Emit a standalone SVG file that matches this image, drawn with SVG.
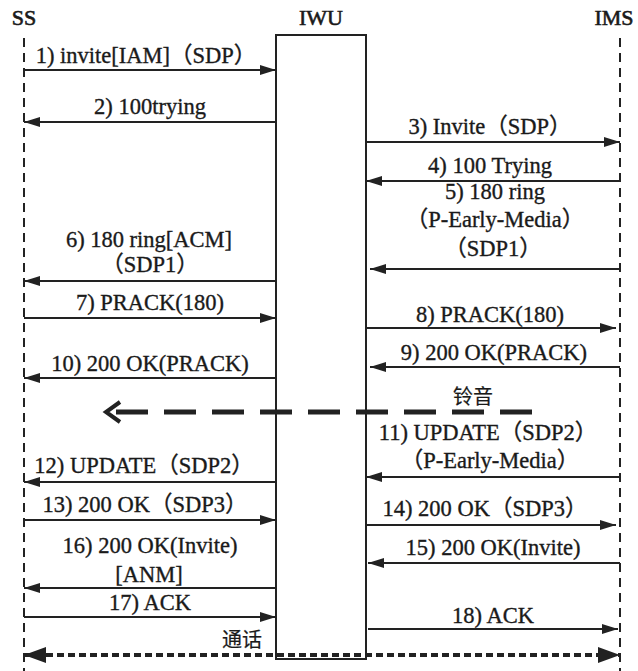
<svg xmlns="http://www.w3.org/2000/svg" width="638" height="671" viewBox="0 0 638 671">
<defs>
<style>
text{font-family:"Liberation Serif","Noto Sans CJK SC",serif;font-size:22.5px;fill:#1a1a1a;stroke:#1a1a1a;stroke-width:0.35}
.c{text-anchor:middle}
.h{font-size:22px;stroke-width:0.6}
.cjk{font-family:"Noto Sans CJK SC",sans-serif;font-size:20px;stroke-width:0.2}
.life{stroke:#222;stroke-width:2;stroke-dasharray:9,6;fill:none}
.msg{stroke:#222;stroke-width:2;fill:none}
</style>
<marker id="ah" viewBox="0 0 16 10" refX="16" refY="5" markerWidth="16" markerHeight="10" markerUnits="userSpaceOnUse" orient="auto">
<path d="M0,0 L16,5 L0,10 Z" fill="#222"/>
</marker>
<marker id="big" viewBox="0 0 22 16" refX="22" refY="8" markerWidth="22" markerHeight="16" markerUnits="userSpaceOnUse" orient="auto-start-reverse">
<path d="M0,0 L22,8 L0,16 Z" fill="#222"/>
</marker>
</defs>
<rect width="638" height="671" fill="#fff"/>

<g id="SS">
<text x="24" y="25" class="c h">SS</text>
<line x1="24" y1="38" x2="24" y2="671" class="life"/>
</g>
<g id="IWU">
<text x="321" y="25" class="c h">IWU</text>
<rect x="276" y="35" width="90" height="624" fill="none" stroke="#222" stroke-width="2"/>
</g>
<g id="IMS">
<text x="614" y="25" class="c h">IMS</text>
<line x1="620" y1="38" x2="620" y2="671" class="life"/>
</g>

<g id="connectors">
<line x1="24" y1="70" x2="276" y2="70" class="msg" marker-end="url(#ah)"/>
<line x1="276" y1="122" x2="24" y2="122" class="msg" marker-end="url(#ah)"/>
<line x1="366" y1="142" x2="620" y2="142" class="msg" marker-end="url(#ah)"/>
<line x1="620" y1="181" x2="366" y2="181" class="msg" marker-end="url(#ah)"/>
<line x1="620" y1="269" x2="370" y2="269" class="msg" marker-end="url(#ah)"/>
<line x1="276" y1="281" x2="24" y2="281" class="msg" marker-end="url(#ah)"/>
<line x1="24" y1="318" x2="276" y2="318" class="msg" marker-end="url(#ah)"/>
<line x1="366" y1="328" x2="616" y2="328" class="msg" marker-end="url(#ah)"/>
<line x1="620" y1="367" x2="370" y2="367" class="msg" marker-end="url(#ah)"/>
<line x1="276" y1="378" x2="24" y2="378" class="msg" marker-end="url(#ah)"/>
<line x1="532" y1="412" x2="108" y2="412" stroke="#222" stroke-width="5" stroke-dasharray="32,16"/>
<path d="M120,402 L106,412 L120,422" fill="none" stroke="#222" stroke-width="4"/>
<line x1="620" y1="477" x2="366" y2="477" class="msg" marker-end="url(#ah)"/>
<line x1="276" y1="482" x2="24" y2="482" class="msg" marker-end="url(#ah)"/>
<line x1="24" y1="520" x2="276" y2="520" class="msg" marker-end="url(#ah)"/>
<line x1="366" y1="525" x2="616" y2="525" class="msg" marker-end="url(#ah)"/>
<line x1="620" y1="563" x2="368" y2="563" class="msg" marker-end="url(#ah)"/>
<line x1="276" y1="588" x2="24" y2="588" class="msg" marker-end="url(#ah)"/>
<line x1="24" y1="617" x2="276" y2="617" class="msg" marker-end="url(#ah)"/>
<line x1="368" y1="629" x2="618" y2="629" class="msg" marker-end="url(#ah)"/>
<line x1="24" y1="655" x2="620" y2="655" stroke="#222" stroke-width="4" stroke-dasharray="7,4" marker-start="url(#big)" marker-end="url(#big)"/>
</g>

<g id="labels">
<text x="146" y="63" class="c">1) invite[IAM]（SDP）</text>
<text x="150" y="114" class="c">2) 100trying</text>
<text x="490" y="134" class="c">3) Invite（SDP）</text>
<text x="490" y="173" class="c">4) 100 Trying</text>
<text x="495" y="199" class="c">5) 180 ring</text>
<text x="495" y="227" class="c">（P-Early-Media）</text>
<text x="493" y="256" class="c">（SDP1）</text>
<text x="149" y="247" class="c">6) 180 ring[ACM]</text>
<text x="150" y="272" class="c">（SDP1）</text>
<text x="150" y="310" class="c">7) PRACK(180)</text>
<text x="490" y="322" class="c">8) PRACK(180)</text>
<text x="494" y="360" class="c">9) 200 OK(PRACK)</text>
<text x="150" y="371" class="c">10) 200 OK(PRACK)</text>
<text x="473" y="404" class="c cjk">铃音</text>
<text x="488" y="440" class="c">11) UPDATE（SDP2）</text>
<text x="490" y="468" class="c">（P-Early-Media）</text>
<text x="144" y="473" class="c">12) UPDATE（SDP2）</text>
<text x="145" y="512" class="c">13) 200 OK（SDP3）</text>
<text x="485" y="516" class="c">14) 200 OK（SDP3）</text>
<text x="493" y="555" class="c">15) 200 OK(Invite)</text>
<text x="150" y="553" class="c">16) 200 OK(Invite)</text>
<text x="149" y="582" class="c">[ANM]</text>
<text x="150" y="610" class="c">17) ACK</text>
<text x="493" y="623" class="c">18) ACK</text>
<text x="242" y="647" class="c cjk">通话</text>
</g>
</svg>
